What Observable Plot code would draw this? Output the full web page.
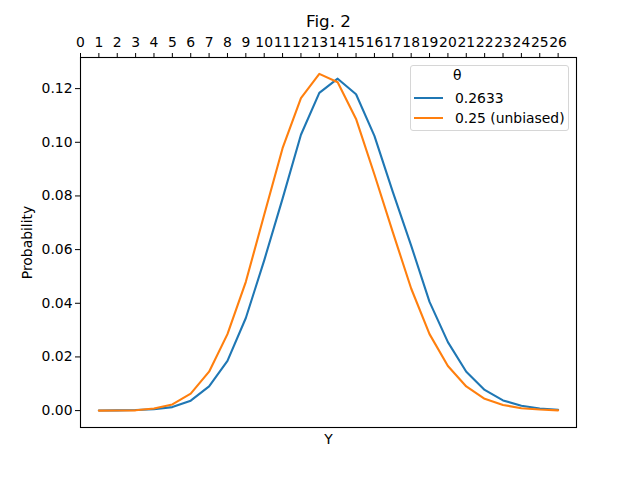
<!DOCTYPE html>
<html>
<head>
<meta charset="utf-8">
<script src="https://cdn.jsdelivr.net/npm/d3@7"></script>
<script src="https://cdn.jsdelivr.net/npm/@observablehq/plot@0.6"></script>
<style>
  body { margin: 0; background: #fff; }
  #wrap { position: relative; width: 640px; height: 480px; font-family: "DejaVu Sans", sans-serif; }
  #legend { position: absolute; left: 410px; top: 65px; width: 159px; height: 66px;
    border: 1px solid #d6d6d6; border-radius: 3px; background: rgba(255,255,255,0.8);
    font-size: 13.9px; color: #000; box-sizing: border-box; }
  #legend .t { position: absolute; left: 42px; top: 1px; }
  #legend .row { position: absolute; left: 3px; height: 18px; display: flex; align-items: center; }
  #legend .sw { width: 29px; height: 2px; margin-right: 12px; }
</style>
</head>
<body>
<div id="wrap"></div>
<script>
const ys = [1,2,3,4,5,6,7,8,9,10,11,12,13,14,15,16,17,18,19,20,21,22,23,24,25,26];
const pBiased = [0.00001,0.0001,0.0002,0.0005,0.0013,0.0037,0.0090,0.0185,0.0345,0.0560,0.0790,0.1028,0.1184,0.1237,0.1179,0.1024,0.0815,0.0615,0.0405,0.0255,0.0145,0.0077,0.0038,0.0018,0.0008,0.0003];
const pUnbiased = [0.00000,0.00003,0.0001,0.0008,0.0023,0.0063,0.0145,0.0285,0.0480,0.0730,0.0978,0.1165,0.1255,0.1224,0.1087,0.0880,0.0665,0.0455,0.0285,0.0166,0.0090,0.0044,0.0021,0.0009,0.0004,0.0001];
const seriesNames = ["0.2633", "0.25 (unbiased)"];
const seriesColors = ["#1f77b4", "#ff7f0e"];
const topTicks = d3.range(0, 27);
const yTicks = [0, 0.02, 0.04, 0.06, 0.08, 0.10, 0.12];

const data = [
  ...ys.map((y, i) => ({Y: y, P: pBiased[i], s: seriesNames[0]})),
  ...ys.map((y, i) => ({Y: y, P: pUnbiased[i], s: seriesNames[1]}))
];

const chart = Plot.plot({
  width: 640,
  height: 480,
  marginLeft: 80,
  marginRight: 64,
  marginTop: 57,
  marginBottom: 53,
  style: {fontFamily: "DejaVu Sans, sans-serif", fontSize: "13.9px", color: "#000", background: "#fff"},
  x: {domain: [0, 27]},
  y: {domain: [-0.0063, 0.1316]},
  color: {domain: seriesNames, range: seriesColors},
  marks: [
    Plot.axisX({anchor: "top", ticks: topTicks, tickFormat: d => String(d), tickSize: 5, tickPadding: 6, label: null, fontSize: 13.9}),
    Plot.axisY({ticks: yTicks, tickFormat: d3.format(".2f"), tickSize: 5, tickPadding: 3, label: null, fontSize: 13.9}),
    Plot.line(data, {x: "Y", y: "P", z: "s", stroke: "s", strokeWidth: 2.1}),
    Plot.frame({stroke: "#000", strokeWidth: 1.1}),
    Plot.text(["Fig. 2"], {frameAnchor: "top", dy: -31, lineAnchor: "bottom", fontSize: 16.7, text: d => d}),
    Plot.text(["Y"], {frameAnchor: "bottom", dy: 12, lineAnchor: "middle", fontSize: 13.9, text: d => d}),
    Plot.text(["Probability"], {frameAnchor: "left", dx: -53, rotate: -90, textAnchor: "middle", lineAnchor: "middle", fontSize: 13.9, text: d => d})
  ]
});

const wrap = document.getElementById("wrap");
wrap.appendChild(chart);

const legend = document.createElement("div");
legend.id = "legend";
let html = `<div class="t">θ</div>`;
seriesNames.forEach((n, i) => {
  html += `<div class="row" style="top:${23 + i * 20}px"><div class="sw" style="background:${seriesColors[i]}"></div><span>${n}</span></div>`;
});
legend.innerHTML = html;
wrap.appendChild(legend);
</script>
</body>
</html>
